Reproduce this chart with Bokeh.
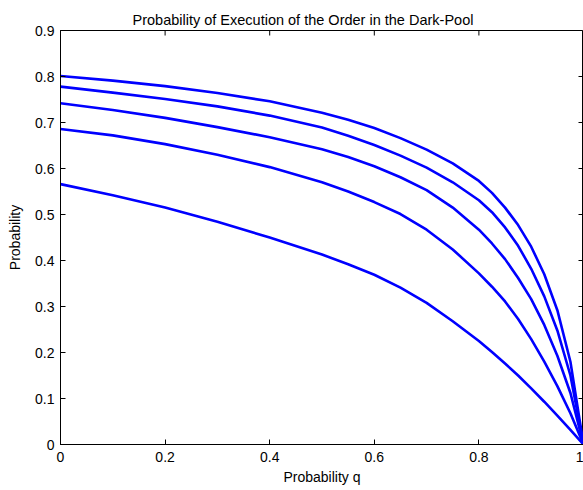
import math
from bokeh.plotting import figure
from bokeh.models import FixedTicker, Range1d, ColumnDataSource
from bokeh.embed import file_html
from bokeh.resources import INLINE

# Data
q = [0.0, 0.1, 0.2, 0.3, 0.4, 0.5, 0.55, 0.6, 0.65, 0.7, 0.75, 0.8, 0.825, 0.85, 0.875, 0.9, 0.925, 0.95, 0.975, 1.0]
curve1 = [0.801, 0.791, 0.779, 0.764, 0.746, 0.721, 0.706, 0.688, 0.666, 0.641, 0.611, 0.573, 0.547, 0.515, 0.477, 0.430, 0.370, 0.292, 0.180, 0.0]
curve2 = [0.778, 0.765, 0.751, 0.735, 0.715, 0.689, 0.671, 0.651, 0.628, 0.602, 0.570, 0.531, 0.505, 0.472, 0.432, 0.382, 0.322, 0.248, 0.150, 0.0]
curve3 = [0.742, 0.727, 0.710, 0.690, 0.668, 0.642, 0.625, 0.605, 0.581, 0.553, 0.515, 0.467, 0.437, 0.403, 0.362, 0.316, 0.260, 0.193, 0.112, 0.0]
curve4 = [0.686, 0.672, 0.653, 0.630, 0.603, 0.570, 0.550, 0.527, 0.501, 0.467, 0.424, 0.372, 0.343, 0.311, 0.273, 0.229, 0.180, 0.127, 0.068, 0.0]
curve5 = [0.566, 0.542, 0.515, 0.484, 0.450, 0.413, 0.392, 0.369, 0.341, 0.308, 0.268, 0.225, 0.201, 0.176, 0.150, 0.122, 0.093, 0.063, 0.032, 0.0]
curves = [curve1, curve2, curve3, curve4, curve5]

x_ticks = [0, 0.2, 0.4, 0.6, 0.8, 1]
y_ticks = [0, 0.1, 0.2, 0.3, 0.4, 0.5, 0.6, 0.7, 0.8, 0.9]
x_tick_labels = {0: "0", 0.2: "0.2", 0.4: "0.4", 0.6: "0.6", 0.8: "0.8", 1: "1"}
y_tick_labels = {v: ("0" if v == 0 else f"{v:.1f}") for v in y_ticks}

title = "Probability of Execution of the Order in the Dark-Pool"
x_label = "Probability q"
y_label = "Probability"

FONT = "Liberation Sans"
X_MIN, X_MAX = 0, 1
Y_MIN, Y_MAX = 0, 0.9

p = figure(width=583, height=490, output_backend="svg", toolbar_location=None,
           x_range=Range1d(X_MIN, X_MAX), y_range=Range1d(Y_MIN, Y_MAX),
           min_border_left=60, min_border_right=0, min_border_top=30, min_border_bottom=46,
           title=title)
p.background_fill_color = "white"
p.border_fill_color = "white"
p.outline_line_color = "black"
p.outline_line_width = 1
p.grid.visible = False

p.title.text_font = FONT
p.title.text_font_size = "14.5px"
p.title.text_font_style = "normal"
p.title.align = "left"
p.title.offset = 72
p.title.text_color = "black"
p.title.standoff = 5

def style_axis(ax):
    ax.axis_line_color = "black"
    ax.axis_line_width = 1
    ax.major_tick_in = 5
    ax.major_tick_out = 0
    ax.minor_tick_line_color = None
    ax.major_tick_line_color = "black"
    ax.major_label_text_font = FONT
    ax.major_label_text_font_size = "14px"
    ax.major_label_text_color = "black"
    ax.axis_label_text_font = FONT
    ax.axis_label_text_font_size = "14px"
    ax.axis_label_text_font_style = "normal"
    ax.axis_label_text_color = "black"

xa = p.xaxis[0]
xa.ticker = FixedTicker(ticks=x_ticks)
xa.major_label_overrides = x_tick_labels
xa.axis_label = x_label
style_axis(xa)
xa.major_label_standoff = 7
xa.axis_label_standoff = 4

ya = p.yaxis[0]
ya.ticker = FixedTicker(ticks=y_ticks)
ya.major_label_overrides = y_tick_labels
ya.axis_label = y_label
style_axis(ya)
ya.major_label_standoff = 6
ya.axis_label_standoff = 9

# Inward tick marks on the top and right edges of the box (clipped to the frame)
p.scatter(x=x_ticks, y=[Y_MAX] * len(x_ticks), marker="dash", size=10, angle=math.pi / 2,
          line_color="black", line_width=1)
p.scatter(x=[X_MAX] * len(y_ticks), y=y_ticks, marker="dash", size=10,
          line_color="black", line_width=1)

for c in curves:
    src = ColumnDataSource(dict(x=q, y=c))
    p.line("x", "y", source=src, line_color="#0000FF", line_width=2.6)

open("out.html", "w").write(file_html(p, INLINE))
